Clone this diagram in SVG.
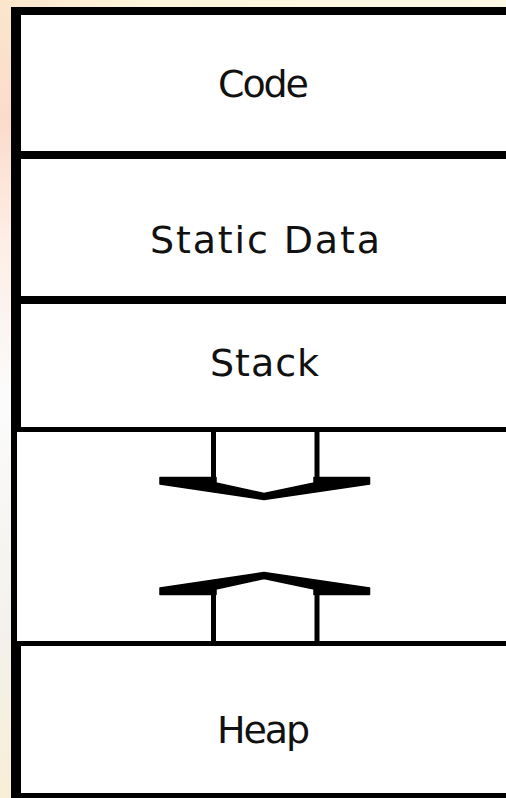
<svg xmlns="http://www.w3.org/2000/svg" width="506" height="798" viewBox="0 0 506 798">
<defs>
<linearGradient id="gl" x1="0" y1="0" x2="0" y2="1">
<stop offset="0" stop-color="#fbe6cc"/>
<stop offset="0.15" stop-color="#fbdccb"/>
<stop offset="0.3" stop-color="#fdeee6"/>
<stop offset="0.5" stop-color="#fbfbfb"/>
<stop offset="0.8" stop-color="#f4f1ec"/>
<stop offset="1" stop-color="#f8efd6"/>
</linearGradient>
<linearGradient id="gt" x1="0" y1="0" x2="1" y2="0">
<stop offset="0" stop-color="#fbe6cc"/>
<stop offset="0.3" stop-color="#fdf6dc"/>
<stop offset="1" stop-color="#fcf8e6"/>
</linearGradient>
<style>
.bd{fill:#000}
.txt{font-family:"DejaVu Sans","Liberation Sans",sans-serif;font-size:38px;fill:#111;text-anchor:middle}
.stem{stroke:#000;stroke-width:5;fill:none}
.head{fill:#000;stroke:#000;stroke-width:1.5;stroke-linejoin:round}
</style>
</defs>
<rect x="0" y="0" width="506" height="798" fill="#ffffff"/>
<rect x="0" y="0" width="11" height="798" fill="url(#gl)"/>
<rect x="0" y="0" width="506" height="7" fill="url(#gt)"/>
<rect x="11" y="7" width="495" height="791" fill="#ffffff"/>

<g id="code">
<rect class="bd" x="11" y="7" width="495" height="8"/>
<rect class="bd" x="11" y="7" width="10" height="152"/>
<text class="txt" x="263.5" y="96.5" textLength="91">Code</text>
</g>
<g id="static-data">
<rect class="bd" x="11" y="151" width="495" height="8"/>
<rect class="bd" x="11" y="151" width="10" height="153"/>
<text class="txt" x="265" y="253" textLength="230">Static Data</text>
</g>
<g id="stack">
<rect class="bd" x="11" y="296" width="495" height="8"/>
<rect class="bd" x="11" y="296" width="10" height="134"/>
<text class="txt" x="264.5" y="375.5" textLength="109">Stack</text>
</g>
<g id="free-space">
<rect class="bd" x="11" y="427" width="495" height="5"/>
<rect class="bd" x="11" y="427" width="6" height="219"/>
<rect class="bd" x="11" y="641" width="495" height="5"/>
</g>
<g id="heap">
<rect class="bd" x="11" y="641" width="10" height="157"/>
<rect class="bd" x="11" y="793" width="495" height="5"/>
<text class="txt" x="263.5" y="742.5" textLength="93">Heap</text>
</g>
<g id="connectors">
<path class="stem" d="M213.5 430 V483 M317 430 V483"/>
<polygon class="head" points="160,477.5 216,477.5 216,483 264,493.5 314,483 314,477.5 369.5,477.5 369.5,484 264,499.5 160,484"/>
<path class="stem" d="M213.5 589 V643 M317 589 V643"/>
<polygon class="head" points="160,594.5 216,594.5 216,589 264,578.5 314,589 314,594.5 369.5,594.5 369.5,588 264,572.5 160,588"/>
</g>
</svg>
